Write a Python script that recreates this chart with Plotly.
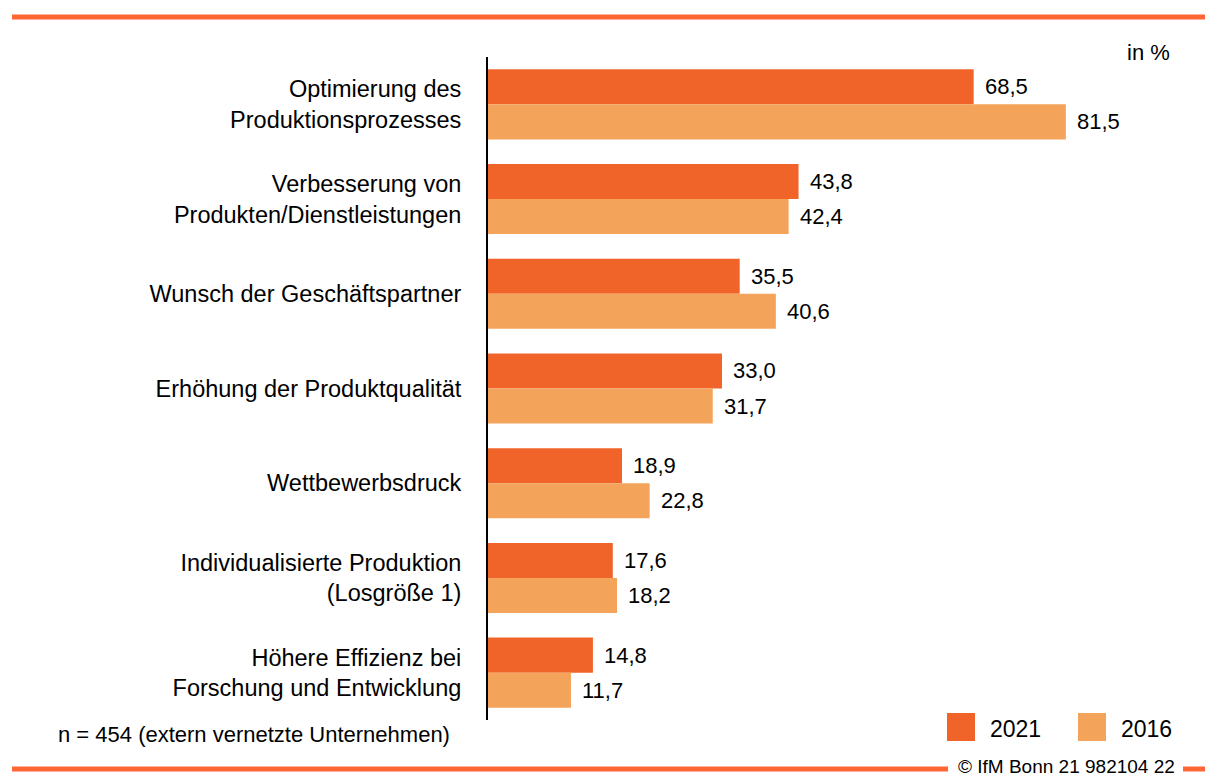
import plotly.graph_objects as go

categories = [
    "Optimierung des<br>Produktionsprozesses",
    "Verbesserung von<br>Produkten/Dienstleistungen",
    "Wunsch der Geschäftspartner",
    "Erhöhung der Produktqualität",
    "Wettbewerbsdruck",
    "Individualisierte Produktion<br>(Losgröße 1)",
    "Höhere Effizienz bei<br>Forschung und Entwicklung",
]
values_2021 = [68.5, 43.8, 35.5, 33.0, 18.9, 17.6, 14.8]
values_2016 = [81.5, 42.4, 40.6, 31.7, 22.8, 18.2, 11.7]
series_names = ["2021", "2016"]

C2021 = "#F0642A"
C2016 = "#F4A35A"
LINE = "#FF6633"
FONT = "Liberation Sans, Arial, sans-serif"

W, H = 1205, 778
L, R, T, B = 488, 24, 57, 58
PW = W - L - R
PH = H - T - B
XMAX = PW / 7.09


def px(x):
    return (x - L) / PW


def py(y):
    return (H - B - y) / PH


idx = list(range(len(categories)))
off = 0.185
bw = 0.37

fig = go.Figure()
fig.add_trace(go.Bar(
    x=values_2021, y=[i - off for i in idx], width=bw, orientation="h",
    marker=dict(color=C2021, line=dict(width=0)), name=series_names[0],
    hoverinfo="x",
))
fig.add_trace(go.Bar(
    x=values_2016, y=[i + off for i in idx], width=bw, orientation="h",
    marker=dict(color=C2016, line=dict(width=0)), name=series_names[1],
    hoverinfo="x",
))

annotations = []
for i, v in zip(idx, values_2021):
    annotations.append(dict(x=v, y=i - off, xref="x", yref="y", text=f"{v:.1f}".replace(".", ","),
                            showarrow=False, xanchor="left", yanchor="middle", xshift=9,
                            font=dict(size=22, color="#000", family=FONT)))
for i, v in zip(idx, values_2016):
    annotations.append(dict(x=v, y=i + off, xref="x", yref="y", text=f"{v:.1f}".replace(".", ","),
                            showarrow=False, xanchor="left", yanchor="middle", xshift=9,
                            font=dict(size=22, color="#000", family=FONT)))

# "in %"
annotations.append(dict(x=px(1172), y=py(52), xref="paper", yref="paper", text="in %",
                        showarrow=False, xanchor="right", yanchor="middle",
                        font=dict(size=22, color="#000", family=FONT)))
# sample note
annotations.append(dict(x=px(56), y=py(734), xref="paper", yref="paper",
                        text="n = 454 (extern vernetzte Unternehmen)",
                        showarrow=False, xanchor="left", yanchor="middle",
                        font=dict(size=22, color="#000", family=FONT)))
# legend texts
annotations.append(dict(x=px(988), y=py(729), xref="paper", yref="paper", text=series_names[0],
                        showarrow=False, xanchor="left", yanchor="middle",
                        font=dict(size=23, color="#000", family=FONT)))
annotations.append(dict(x=px(1119), y=py(729), xref="paper", yref="paper", text=series_names[1],
                        showarrow=False, xanchor="left", yanchor="middle",
                        font=dict(size=23, color="#000", family=FONT)))
# copyright
annotations.append(dict(x=px(1066), y=py(766.5), xref="paper", yref="paper",
                        text="© IfM Bonn 21 982104 22",
                        showarrow=False, xanchor="center", yanchor="middle",
                        borderpad=0,
                        font=dict(size=19, color="#000", family=FONT)))

shapes = [
    dict(type="line", xref="paper", yref="paper", x0=px(12), x1=px(1205), y0=py(17), y1=py(17),
         line=dict(color=LINE, width=5)),
    dict(type="line", xref="paper", yref="paper", x0=px(12), x1=px(948), y0=py(769), y1=py(769),
         line=dict(color=LINE, width=5)),
    dict(type="line", xref="paper", yref="paper", x0=px(1183), x1=px(1205), y0=py(769), y1=py(769),
         line=dict(color=LINE, width=5)),
    dict(type="rect", xref="paper", yref="paper", x0=px(947), x1=px(975), y0=py(741), y1=py(713),
         fillcolor=C2021, line=dict(width=0)),
    dict(type="rect", xref="paper", yref="paper", x0=px(1078), x1=px(1106), y0=py(741), y1=py(713),
         fillcolor=C2016, line=dict(width=0)),
]

fig.update_layout(
    width=W, height=H,
    margin=dict(l=L, r=R, t=T, b=B, autoexpand=False),
    paper_bgcolor="white", plot_bgcolor="white",
    showlegend=False,
    barmode="overlay",
    xaxis=dict(range=[0, XMAX], visible=False, fixedrange=True),
    yaxis=dict(range=[len(categories) - 0.5, -0.5], tickvals=idx, ticktext=categories,
               showgrid=False, zeroline=False, showline=True, linecolor="#000", linewidth=2,
               ticks="", ticklabelstandoff=20,
               tickfont=dict(size=23.5, color="#000", family=FONT), fixedrange=True),
    annotations=annotations,
    shapes=shapes,
    font=dict(family=FONT),
)

fig.write_html(
    "out.html",
    config={"displayModeBar": False},
    post_script="document.body.style.margin='0';document.body.style.overflow='hidden';",
)
